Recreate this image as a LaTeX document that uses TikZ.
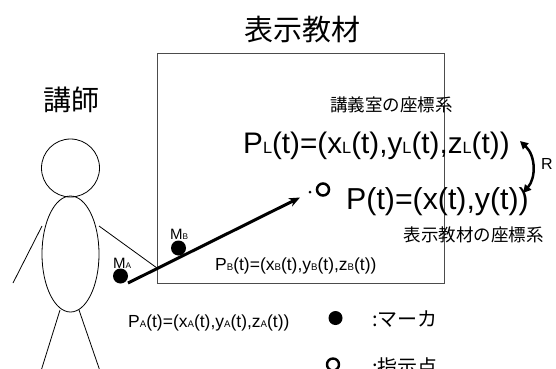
\documentclass[tikz,border=0pt]{standalone}
\usepackage{fontspec}
\setmainfont{Liberation Sans}
\newfontfamily\jp{Noto Sans CJK JP}
\usetikzlibrary{arrows.meta,shapes.geometric}
% small index letters sitting on the baseline
\newcommand\lo[1]{\scalebox{0.55}{#1}}
\begin{document}
\begin{tikzpicture}[x=1pt,y=-1pt,
  outline/.style={line width=0.8pt},
  marker/.style={circle,fill=black,inner sep=0pt,minimum size=15pt},
  jptext/.style={inner sep=0pt,font={\jp\fontsize{#1}{#1}\selectfont}},
  formula/.style={inner sep=0pt,anchor=base west,font={\fontsize{#1}{#1}\selectfont}}]
\useasboundingbox (0,0) rectangle (556,368);
\fill[white] (0,0) rectangle (556,368);

% display panel
\node[draw=black!70,line width=1pt,minimum width=287pt,minimum height=230pt,
      inner sep=0pt,anchor=north west] (panel) at (157,53) {};
\node[jptext=29] (title) at (302.5,30) {表示教材};

% lecturer
\node[jptext=28] (lecturer) at (71.5,99.5) {講師};
\node[draw,circle,outline,minimum size=58pt,inner sep=0pt] (head) at (70.5,168) {};
\node[draw,ellipse,outline,minimum width=57pt,minimum height=116pt,inner sep=0pt] (body) at (70.5,254) {};
\coordinate (lshoulder) at (42,226);
\coordinate (lhand) at (13,283);
\coordinate (rshoulder) at (99,226);
\coordinate (rhand) at (157,268);
\coordinate (lhip) at (60,310);
\coordinate (lfoot) at (41,371);
\coordinate (rhip) at (79,310);
\coordinate (rfoot) at (100,371);
\draw[outline] (lshoulder) -- (lhand);
\draw[outline] (rshoulder) -- (rhand);
\draw[outline] (lhip) -- (lfoot);
\draw[outline] (rhip) -- (rfoot);

% markers on the pointer
\node[marker] (ma) at (120.5,276) {};
\node[marker] (mb) at (178.5,248) {};
\node[formula=15] (malabel) at (113,268) {M\lo{A}};
\node[formula=15] (mblabel) at (170,239) {M\lo{B}};

% pointer ray and indicated point
\coordinate (raystart) at (128,283);
\coordinate (raytip) at (300,197.5);
\draw[line width=3pt,-{Stealth[length=11pt,width=9pt]}] (raystart) -- (raytip);
\fill (310,192) circle (1.5pt);
\node[draw,circle,line width=2.5pt,minimum size=12pt,inner sep=0pt] (target) at (323,189.5) {};

% coordinates
\node[jptext=17.5] (roomsys) at (391.5,104.5) {講義室の座標系};
\node[formula=29.7] (pl) at (243,153) {P\lo{L}(t)=(x\lo{L}(t),y\lo{L}(t),z\lo{L}(t))};
\node[formula=30.3] (pt) at (346,209) {P(t)=(x(t),y(t))};
\node[jptext=17.5] (panelsys) at (473.5,234.5) {表示教材の座標系};
\node[formula=17.5] (pb) at (215,270) {P\lo{B}(t)=(x\lo{B}(t),y\lo{B}(t),z\lo{B}(t))};
\node[formula=17.5] (pa) at (128,327) {P\lo{A}(t)=(x\lo{A}(t),y\lo{A}(t),z\lo{A}(t))};

% transformation between the systems
\coordinate (rtop) at (520,141);
\coordinate (rbot) at (523,193);
\draw[line width=2.5pt,{Triangle[length=8pt,width=8pt]}-{Triangle[length=8pt,width=8pt]}]
  (rtop) .. controls (536,156) and (536,178) .. (rbot);
\node[formula=16] (rlabel) at (541,169) {R};

% legend
\node[marker,minimum size=14pt] (legfill) at (335.5,318) {};
\node[jptext=20,anchor=west] (legfilltext) at (372,319) {:マーカ};
\node[draw,circle,line width=2.4pt,minimum size=12pt,inner sep=0pt] (legopen) at (333,364.5) {};
\node[jptext=20,anchor=west] (legopentext) at (372,367) {:指示点};
\end{tikzpicture}
\end{document}
